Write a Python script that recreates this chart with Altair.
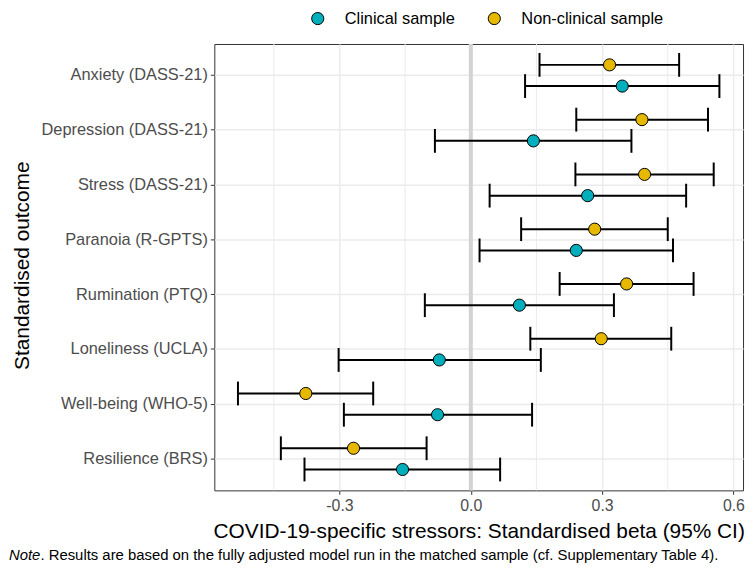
import altair as alt
import pandas as pd

outcomes = ["Anxiety (DASS-21)", "Depression (DASS-21)", "Stress (DASS-21)",
            "Paranoia (R-GPTS)", "Rumination (PTQ)", "Loneliness (UCLA)",
            "Well-being (WHO-5)", "Resilience (BRS)"]
samples = ["Non-clinical sample", "Clinical sample"]

# Non-clinical sample
nc_beta = [0.317, 0.391, 0.397, 0.283, 0.356, 0.298, -0.377, -0.268]
nc_lo = [0.157, 0.241, 0.239, 0.115, 0.203, 0.136, -0.532, -0.434]
nc_hi = [0.476, 0.542, 0.555, 0.450, 0.509, 0.458, -0.223, -0.101]
# Clinical sample
cl_beta = [0.346, 0.143, 0.267, 0.241, 0.111, -0.072, -0.076, -0.156]
cl_lo = [0.124, -0.082, 0.043, 0.020, -0.105, -0.302, -0.290, -0.380]
cl_hi = [0.568, 0.367, 0.492, 0.462, 0.327, 0.160, 0.140, 0.067]

major_ticks = [-0.3, 0.0, 0.3, 0.6]
minor_ticks = [-0.45, -0.15, 0.15, 0.45]

rows = []
for i, o in enumerate(outcomes):
    rows.append(dict(outcome=o, sample=samples[0], beta=nc_beta[i], lo=nc_lo[i], hi=nc_hi[i]))
    rows.append(dict(outcome=o, sample=samples[1], beta=cl_beta[i], lo=cl_lo[i], hi=cl_hi[i]))
df = pd.DataFrame(rows)

FONT = "Liberation Sans"
xscale = alt.Scale(domain=[-0.586, 0.622], nice=False, zero=False)
yscale = alt.Scale(paddingInner=0, paddingOuter=0.075)
yoff_scale = alt.Scale(paddingInner=0, paddingOuter=0.29)

X = alt.X("beta:Q", scale=xscale,
          axis=alt.Axis(values=major_ticks, grid=True,
                        labelExpr="datum.value < 0 ? '-' + format(-datum.value, '.1f') : format(datum.value, '.1f')",
                        title="COVID-19-specific stressors: Standardised beta (95% CI)",
                        titleFontSize=21, titleFont=FONT, titleColor="black",
                        titleFontWeight="normal", titleY=48, titleBaseline="alphabetic",
                        labelFontSize=16, labelColor="#4D4D4D", labelFont=FONT,
                        tickSize=4, tickColor="#333333", labelPadding=3,
                        domain=False))
Y = alt.Y("outcome:N", sort=outcomes, scale=yscale,
          axis=alt.Axis(title="Standardised outcome", titleFontSize=21, titleFont=FONT,
                        titleColor="black", titleFontWeight="normal", titleAngle=270,
                        titleX=-187, titleY=223, titleBaseline="alphabetic",
                        titleAlign="center",
                        labelFontSize=16.5, labelColor="#4D4D4D", labelFont=FONT,
                        tickSize=4, tickColor="#333333", labelPadding=3,
                        grid=True, domain=False))
YO = alt.YOffset("sample:N", sort=samples, scale=yoff_scale)
color = alt.Color("sample:N", sort=["Clinical sample", "Non-clinical sample"],
                  scale=alt.Scale(domain=["Clinical sample", "Non-clinical sample"],
                                  range=["#00AFBB", "#E7B800"]),
                  legend=alt.Legend(title=None, orient="none", legendX=96, legendY=-34,
                                    padding=0,
                                    direction="horizontal", columns=2,
                                    labelFontSize=16.5, labelFont=FONT, labelColor="black",
                                    symbolType="circle", symbolSize=150,
                                    symbolStrokeColor="black", symbolStrokeWidth=1,
                                    symbolOpacity=1, labelOffset=19, columnPadding=31))

base = alt.Chart(df)

minor = alt.Chart(pd.DataFrame({"v": minor_ticks})).mark_rule(
    color="#EBEBEB", strokeWidth=1).encode(x=alt.X("v:Q", scale=xscale))
zero = alt.Chart(pd.DataFrame({"v": [0.0]})).mark_rule(
    color="#D3D3D3", strokeWidth=4).encode(x=alt.X("v:Q", scale=xscale))

bars = base.mark_rule(color="black", strokeWidth=2).encode(
    x=alt.X("lo:Q", scale=xscale), x2="hi:Q", y=Y, yOffset=YO)
cap_lo = base.mark_tick(color="black", thickness=2, size=24, opacity=1).encode(
    x=alt.X("lo:Q", scale=xscale), y=Y, yOffset=YO)
cap_hi = base.mark_tick(color="black", thickness=2, size=24, opacity=1).encode(
    x=alt.X("hi:Q", scale=xscale), y=Y, yOffset=YO)
points = base.mark_point(filled=True, shape="circle", size=150, stroke="black",
                         strokeWidth=1, opacity=1).encode(
    x=X, y=Y, yOffset=YO, fill=color, color=alt.value("black"))

note_df = pd.DataFrame({"a": ["Note"],
                        "b": [". Results are based on the fully adjusted model run in the matched sample (cf. Supplementary Table 4)."]})
note_a = alt.Chart(note_df).mark_text(font=FONT, fontSize=15, fontStyle="italic",
                                      align="left", baseline="alphabetic", color="black").encode(
    text="a:N", x=alt.value(-207), y=alt.value(520))
note_b = alt.Chart(note_df).mark_text(font=FONT, fontSize=15, align="left",
                                      baseline="alphabetic", color="black").encode(
    text="b:N", x=alt.value(-175.3), y=alt.value(520))

chart = alt.layer(minor, zero, bars, cap_lo, cap_hi, points, note_a, note_b).resolve_scale(
    x="shared", y="shared").properties(
    width=533, height=450,
    autosize=alt.AutoSizeParams(type="none"),
    padding={"left": 208, "top": 34, "right": 4, "bottom": 78},
).configure_view(stroke="#333333", strokeWidth=1).configure_axis(
    gridColor="#EBEBEB", gridWidth=1.5)

chart.save("out.html", embed_options={"renderer": "svg", "actions": False})
